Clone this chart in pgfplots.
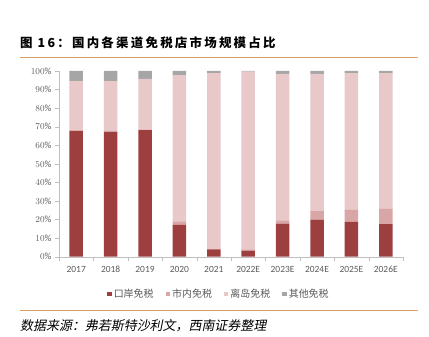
\documentclass[border=0pt]{standalone}
\usepackage{fontspec}
\usepackage{pgfplots}
\pgfplotsset{compat=1.18}
\setmainfont{Carlito}
\newfontfamily\cjk{Noto Sans CJK SC}
\newfontfamily\cjkt{Noto Sans CJK SC}[LetterSpace=18]
\newfontfamily\cjki{Noto Sans CJK SC}[FakeSlant=0.2]
\definecolor{cdark}{HTML}{9E3F3F}
\definecolor{cmid}{HTML}{D9A6A6}
\definecolor{clight}{HTML}{E8C8C8}
\definecolor{cgray}{HTML}{A6A6A6}
\definecolor{axgray}{HTML}{BFBFBF}
\definecolor{labgray}{HTML}{595959}
\definecolor{rule}{HTML}{D9A066}
\begin{document}
\begin{tikzpicture}[x=1bp,y=1bp]
\path[use as bounding box] (0,0) rectangle (429,337);
\node[anchor=west,inner sep=0] at (20,294.5) {\cjkt\bfseries\fontsize{12.5}{13}\selectfont 图 16：国内各渠道免税店市场规模占比};
\draw[rule,line width=0.9bp] (20,279.7) -- (418,279.7);
\draw[rule,line width=0.9bp] (20,26.3) -- (418,26.3);
\node[anchor=west,inner sep=0] at (20,11) {\cjki\fontsize{13}{13}\selectfont 数据来源：弗若斯特沙利文，西南证券整理};
\begin{axis}[
  at={(59bp,80.3bp)}, anchor=south west,
  scale only axis, width=344bp, height=185.7bp,
  ybar stacked, bar width=13.5bp,
  xmin=-0.5, xmax=9.5, ymin=0, ymax=100,
  axis x line=bottom, axis y line=left,
  axis line style={draw=axgray,-},
  tick align=outside,
  xtick={0,...,9},
  xticklabels={2017,2018,2019,2020,2021,2022E,2023E,2024E,2025E,2026E},
  minor xtick={-0.5,0.5,...,9.5},
  major x tick style={draw=none},
  minor x tick style={draw=axgray},
  minor tick length=4bp,
  major tick length=4bp,
  y tick style={draw=axgray},
  ytick={0,10,...,100},
  yticklabel={\pgfmathprintnumber{\tick}\%},
  tick label style={font=\fontsize{9.5}{10}\selectfont, text=labgray},
  xticklabel style={yshift=-2bp},
  legend style={at={(0.465,-0.2)}, anchor=center, draw=none, fill=none,
    legend columns=4, font=\cjk\fontsize{10}{10}\selectfont, text=labgray,
    /tikz/every even column/.append style={column sep=10bp}},
  legend image code/.code={\fill[#1] (0bp,-2.2bp) rectangle (4.5bp,2.3bp);},
]
\addplot[fill=cdark,draw=none] coordinates {(0,67.7)(1,67.1)(2,68.2)(3,17.2)(4,3.9)(5,3.2)(6,17.8)(7,19.9)(8,18.7)(9,17.6)};
\addplot[fill=cmid,draw=none] coordinates {(0,0.3)(1,0.7)(2,0.4)(3,1.8)(4,0.5)(5,0.7)(6,1.8)(7,4.7)(8,6.5)(9,8.1)};
\addplot[fill=clight,draw=none] coordinates {(0,26.6)(1,26.8)(2,27.1)(3,78.8)(4,94.5)(5,95.7)(6,78.8)(7,73.8)(8,73.7)(9,73.2)};
\addplot[fill=cgray,draw=none] coordinates {(0,5.4)(1,5.4)(2,4.3)(3,2.2)(4,1.1)(5,0.4)(6,1.6)(7,1.6)(8,1.1)(9,1.1)};
\legend{口岸免税,市内免税,离岛免税,其他免税}
\end{axis}
\end{tikzpicture}
\end{document}
